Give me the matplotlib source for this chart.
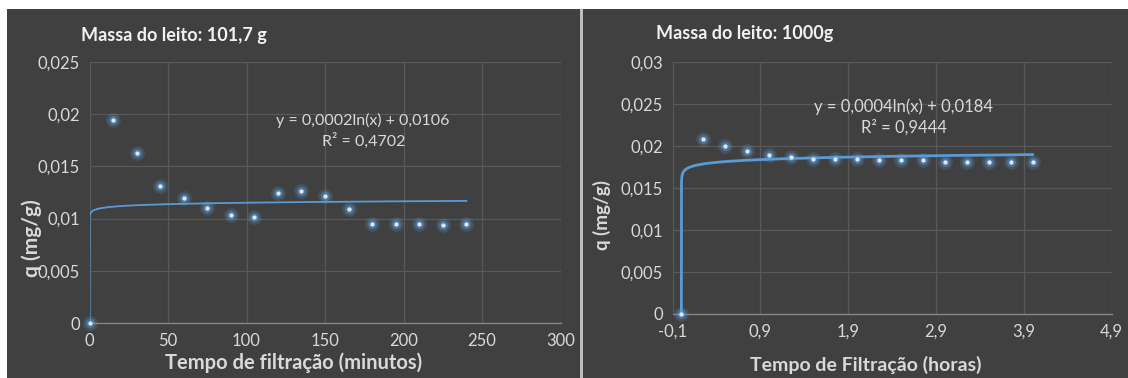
import numpy as np
import matplotlib
matplotlib.use("Agg")
import matplotlib.pyplot as plt
from matplotlib.patches import Rectangle
from matplotlib.ticker import FuncFormatter

plt.rcParams['font.family'] = ['Lato', 'DejaVu Sans']

# --- data -------------------------------------------------------------
# Bed mass 101.7 g : time in minutes
t_min = [0, 15, 30, 45, 60, 75, 90, 105, 120, 135, 150, 165, 180, 195, 210, 225, 240]
q_small = [0.0, 0.0194, 0.0163, 0.0131, 0.0120, 0.0110, 0.0103, 0.0102, 0.0125,
           0.0126, 0.0122, 0.0109, 0.0095, 0.0095, 0.0095, 0.0094, 0.0095]
fit_small = (0.0002, 0.0106)          # q = a*ln(t) + b
eq_small = ["y = 0,0002ln(x) + 0,0106", "R² = 0,4702"]

# Bed mass 1000 g : time in hours
t_h = [0, 0.25, 0.5, 0.75, 1.0, 1.25, 1.5, 1.75, 2.0, 2.25, 2.5, 2.75, 3.0, 3.25,
       3.5, 3.75, 4.0]
q_large = [0.0, 0.0208, 0.0200, 0.0194, 0.0189, 0.0187, 0.0184, 0.0184, 0.0184,
           0.0183, 0.0183, 0.0183, 0.0181, 0.0181, 0.0181, 0.0181, 0.0181]
fit_large = (0.0004, 0.0184)
eq_large = ["y = 0,0004ln(x) + 0,0184", "R² = 0,9444"]

titles = ["Massa do leito: 101,7 g", "Massa do leito: 1000g"]
xlabels = ["Tempo de filtração (minutos)", "Tempo de Filtração (horas)"]
ylabel = "q (mg/g)"

# --- style ------------------------------------------------------------
BG = "#404040"
GRID = "#595959"
AXIS = "#858585"
TICK = "#d9d9d9"
TITLE = "#f2f2f2"
BLUE = "#5b9bd5"

W, H = 1128, 378
fig = plt.figure(figsize=(W / 100, H / 100), dpi=100, facecolor="white")


def fx(px):
    return px / W


def fy(py):
    return 1 - py / H


# dark chart panels and the light separator between them
for x0, x1, col in [(7, 580, BG), (580, 582.5, "#bdbdbd"), (582.5, W, BG)]:
    fig.patches.append(Rectangle((fx(x0), 0), fx(x1 - x0), fy(9), transform=fig.transFigure,
                                 facecolor=col, edgecolor="none", zorder=-10))


def comma(v, nd=3):
    s = f"{v:.{nd}f}".rstrip("0").rstrip(".")
    if s in ("-0", ""):
        s = "0"
    return s.replace(".", ",")


def style_axes(ax):
    ax.set_facecolor("none")
    for sp in ("top", "right", "left"):
        ax.spines[sp].set_visible(False)
    ax.spines["bottom"].set_color(AXIS)
    ax.spines["bottom"].set_linewidth(1.0)
    ax.grid(True, color=GRID, linewidth=0.9)
    ax.set_axisbelow(True)
    ax.tick_params(length=0, colors=TICK, labelsize=12, pad=7)


def draw_points(ax, x, y):
    ax.scatter(x, y, s=110, color=BLUE, alpha=0.22, linewidths=0, zorder=3, clip_on=False)
    ax.scatter(x, y, s=45, color=BLUE, alpha=0.45, linewidths=0, zorder=3, clip_on=False)
    ax.scatter(x, y, s=10, color="#d6e6f5", linewidths=0, zorder=4, clip_on=False)


def draw_trend(ax, coef, xmax, lw):
    a, b = coef
    x0 = np.exp(-b / a)   # where the fitted curve reaches zero
    xs = np.logspace(np.log10(x0), np.log10(xmax), 3000)
    ax.plot(xs, a * np.log(xs) + b, color=BLUE, linewidth=lw, zorder=2)


# --- left chart -------------------------------------------------------
ax1 = fig.add_axes([fx(89.5), fy(323), fx(560.5 - 89.5), (323 - 62) / H])
style_axes(ax1)
ax1.set_xlim(0, 300)
ax1.set_ylim(0, 0.025)
ax1.set_xticks(np.arange(0, 301, 50))
ax1.set_yticks(np.arange(0, 0.0251, 0.005))
ax1.yaxis.set_major_formatter(FuncFormatter(lambda v, p: comma(v)))
ax1.xaxis.set_major_formatter(FuncFormatter(lambda v, p: f"{v:.0f}"))
draw_trend(ax1, fit_small, max(t_min), 1.3)
draw_points(ax1, t_min, q_small)

# --- right chart ------------------------------------------------------
ax2 = fig.add_axes([fx(672.6), fy(314), fx(1111.6 - 672.6), (314 - 61.7) / H])
style_axes(ax2)
ax2.set_xlim(-0.1, 4.9)
ax2.set_ylim(0, 0.03)
ax2.set_xticks(np.arange(-0.1, 4.91, 1.0))
ax2.set_yticks(np.arange(0, 0.0301, 0.005))
ax2.yaxis.set_major_formatter(FuncFormatter(lambda v, p: comma(v)))
ax2.xaxis.set_major_formatter(FuncFormatter(lambda v, p: f"{v:.1f}".replace(".", ",")))
draw_trend(ax2, fit_large, max(t_h), 2.0)
draw_points(ax2, t_h, q_large)

# --- texts ------------------------------------------------------------
fig.text(fx(81), fy(35), titles[0], color=TITLE, fontsize=13, fontweight="bold",
         ha="left", va="center")
fig.text(fx(656.5), fy(33), titles[1], color=TITLE, fontsize=13, fontweight="bold",
         ha="left", va="center")

fig.text(fx(294), fy(363), xlabels[0], color=TICK, fontsize=14.5, fontweight="bold",
         ha="center", va="center")
fig.text(fx(866), fy(365), xlabels[1], color=TICK, fontsize=14, fontweight="bold",
         ha="center", va="center")

fig.text(fx(32), fy(238), ylabel, color=TICK, fontsize=15, fontweight="bold",
         rotation=90, ha="center", va="center")
fig.text(fx(602), fy(215), ylabel, color=TICK, fontsize=13.5, fontweight="bold",
         rotation=90, ha="center", va="center")

fig.text(fx(363), fy(120), eq_small[0], color=TICK, fontsize=11.5, ha="center", va="center")
fig.text(fx(364), fy(141), eq_small[1], color=TICK, fontsize=11.5, ha="center", va="center")
fig.text(fx(904), fy(107), eq_large[0], color=TICK, fontsize=12, ha="center", va="center")
fig.text(fx(904), fy(127), eq_large[1], color=TICK, fontsize=12, ha="center", va="center")

fig.savefig("out.png", dpi=100, facecolor="white")
